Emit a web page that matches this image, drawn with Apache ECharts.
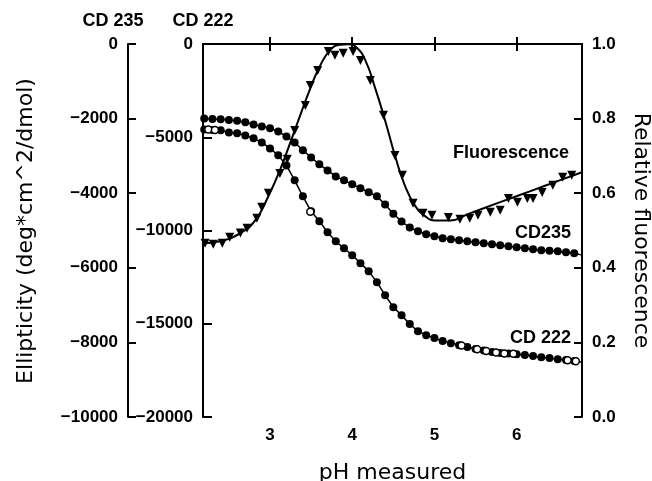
<!DOCTYPE html>
<html>
<head>
<meta charset="utf-8">
<script src="https://cdn.jsdelivr.net/npm/echarts@6/dist/echarts.min.js"></script>
<style>html,body{margin:0;padding:0;background:#fff;}#c{width:652px;height:481px;}</style>
</head>
<body>
<div id="c"></div>
<script>
// ---- Data ----
const xTicks = [3, 4, 5, 6];
const cdPH = [2.2,2.3,2.4,2.5,2.6,2.7,2.8,2.9,3.0,3.1,3.2,3.3,3.4,3.5,3.6,3.7,3.8,3.9,4.0,4.1,4.2,4.3,4.4,4.5,4.6,4.7,4.8,4.9,5.0,5.1,5.2,5.3,5.4,5.5,5.6,5.7,5.8,5.9,6.0,6.1,6.2,6.3,6.4,6.5,6.6,6.7,6.8];
const cd235 = [-1995,-2010,-2020,-2035,-2060,-2100,-2155,-2210,-2260,-2345,-2480,-2640,-2850,-3040,-3225,-3390,-3550,-3655,-3760,-3870,-3975,-4085,-4300,-4550,-4760,-4920,-5020,-5100,-5155,-5210,-5235,-5260,-5290,-5315,-5340,-5370,-5395,-5420,-5450,-5475,-5500,-5530,-5540,-5555,-5580,-5610,-5660];
const cd222 = [-4580,-4605,-4630,-4740,-4790,-4900,-5060,-5275,-5600,-5970,-6510,-7310,-8170,-8970,-9500,-10090,-10580,-10950,-11330,-11750,-12180,-12770,-13470,-14110,-14540,-15020,-15400,-15610,-15770,-15930,-16040,-16150,-16250,-16360,-16440,-16520,-16570,-16600,-16630,-16680,-16730,-16790,-16840,-16900,-16950,-17000,-17060];
const cd222OpenPH = [2.25,2.33,3.49,5.33,5.52,5.63,5.75,5.85,5.96,6.62,6.72];
const cd222Open = [-4590,-4610,-8990,-16170,-16370,-16460,-16540,-16590,-16615,-16960,-17010];
const fluorPH = [2.21,2.31,2.42,2.51,2.64,2.72,2.84,2.90,2.98,3.12,3.21,3.30,3.43,3.49,3.58,3.71,3.79,3.89,4.01,4.10,4.22,4.38,4.52,4.61,4.74,4.86,4.97,5.17,5.31,5.43,5.53,5.68,5.80,5.90,6.01,6.13,6.20,6.31,6.44,6.56,6.67,6.80];
const fluor = [0.466,0.463,0.466,0.482,0.493,0.506,0.533,0.562,0.600,0.653,0.691,0.768,0.835,0.889,0.929,0.980,0.970,0.975,0.980,0.956,0.902,0.809,0.701,0.648,0.573,0.546,0.541,0.535,0.530,0.533,0.541,0.549,0.554,0.586,0.576,0.586,0.586,0.602,0.621,0.643,0.648,0.667];
const fitPH = [2.185,2.39,2.64,2.82,2.98,3.12,3.30,3.49,3.61,3.73,3.85,3.95,4.05,4.16,4.28,4.40,4.52,4.64,4.76,4.89,5.01,5.19,5.43,5.80,6.16,6.53,6.795];
const fit = [0.466,0.471,0.493,0.527,0.592,0.661,0.768,0.881,0.942,0.983,0.998,0.999,0.991,0.956,0.881,0.795,0.701,0.621,0.568,0.538,0.527,0.527,0.546,0.576,0.605,0.635,0.656];

const pairs = (xs, ys) => xs.map((x, i) => [x, ys[i]]);
const FT = '"Liberation Sans", Arial, sans-serif';
const FTT = '"DejaVu Sans", sans-serif';
const minus = v => String(v).replace('-', '\u2212');
const lbl = {color:'#000', fontSize:17, fontWeight:'bold', fontFamily:FT};
const axLine = {show:true, lineStyle:{color:'#000', width:2}};
const tick = len => ({show:true, inside:true, length:len, lineStyle:{color:'#000', width:2}});

const chart = echarts.init(document.getElementById('c'), null, {renderer:'canvas'});
chart.setOption({
  animation:false,
  backgroundColor:'#fff',
  grid:{left:203, right:70, top:44, bottom:64, containLabel:false, outerBoundsMode:'none'},
  xAxis:[
    {type:'value', min:2.185, max:6.795, position:'bottom',
     axisLine:axLine, axisTick:Object.assign(tick(7), {customValues:xTicks}),
     axisLabel:Object.assign({customValues:xTicks, margin:10}, lbl),
     splitLine:{show:false},
     name:'pH measured', nameLocation:'middle', nameGap:45,
     nameTextStyle:{color:'#000', fontSize:22, fontFamily:FTT}},
    {type:'value', min:2.185, max:6.795, position:'top',
     axisLine:axLine, axisTick:Object.assign(tick(7), {customValues:xTicks}),
     axisLabel:{show:false}, splitLine:{show:false}}
  ],
  yAxis:[
    {type:'value', position:'left', min:-20000, max:0, interval:5000,
     axisLine:axLine, axisTick:tick(9),
     axisLabel:Object.assign({margin:10, formatter:minus}, lbl),
     splitLine:{show:false},
     name:'CD 222', nameLocation:'end', nameGap:14,
     nameTextStyle:{color:'#000', fontSize:18, fontWeight:'bold', fontFamily:FT}},
    {type:'value', position:'left', offset:75, min:-10000, max:0, interval:2000,
     axisLine:axLine, axisTick:tick(8),
     axisLabel:Object.assign({margin:10, formatter:minus}, lbl),
     splitLine:{show:false},
     name:'CD 235', nameLocation:'end', nameGap:14,
     nameTextStyle:{color:'#000', fontSize:18, fontWeight:'bold', fontFamily:FT, padding:[0,30,0,0]}},
    {type:'value', position:'right', min:0, max:1, interval:0.2,
     axisLine:axLine, axisTick:tick(8),
     axisLabel:Object.assign({margin:10, formatter:v => v.toFixed(1)}, lbl),
     splitLine:{show:false},
     name:'Relative fluorescence', nameLocation:'middle', nameGap:48, nameRotate:-90,
     nameTextStyle:{color:'#000', fontSize:22, fontFamily:FTT}}
  ],
  series:[
    {name:'CD235', type:'line', xAxisIndex:0, yAxisIndex:1, data:pairs(cdPH, cd235),
     symbol:'circle', symbolSize:8, showSymbol:true,
     itemStyle:{color:'#000', opacity:1}, lineStyle:{color:'#000', width:1.5}, z:3},
    {name:'CD222', type:'line', xAxisIndex:0, yAxisIndex:0, data:pairs(cdPH, cd222),
     symbol:'circle', symbolSize:8, showSymbol:true,
     itemStyle:{color:'#000', opacity:1}, lineStyle:{color:'#000', width:1.5}, z:3},
    {name:'CD222 open', type:'scatter', xAxisIndex:0, yAxisIndex:0, data:pairs(cd222OpenPH, cd222Open),
     symbol:'circle', symbolSize:7,
     itemStyle:{color:'#fff', borderColor:'#000', borderWidth:1.5, opacity:1}, z:4},
    {name:'Fluorescence fit', type:'line', xAxisIndex:0, yAxisIndex:2, data:pairs(fitPH, fit),
     smooth:0.5, showSymbol:false, symbol:'none',
     lineStyle:{color:'#000', width:2}, z:2},
    {name:'Fluorescence', type:'scatter', xAxisIndex:0, yAxisIndex:2, data:pairs(fluorPH, fluor),
     symbol:'triangle', symbolRotate:180, symbolSize:9,
     itemStyle:{color:'#000', opacity:1}, z:3}
  ],
  graphic:[
    {type:'text', x:26, y:231, rotation:Math.PI/2, style:{text:'Ellipticity (deg*cm^2/dmol)', fill:'#000', font:'22px ' + FTT, align:'center', verticalAlign:'middle'}},
    {type:'text', x:453, y:153, style:{text:'Fluorescence', fill:'#000', font:'bold 18px ' + FT, align:'left', verticalAlign:'middle'}},
    {type:'text', x:515, y:233, style:{text:'CD235', fill:'#000', font:'bold 18px ' + FT, align:'left', verticalAlign:'middle'}},
    {type:'text', x:510, y:338, style:{text:'CD 222', fill:'#000', font:'bold 18px ' + FT, align:'left', verticalAlign:'middle'}}
  ]
});
</script>
</body>
</html>
